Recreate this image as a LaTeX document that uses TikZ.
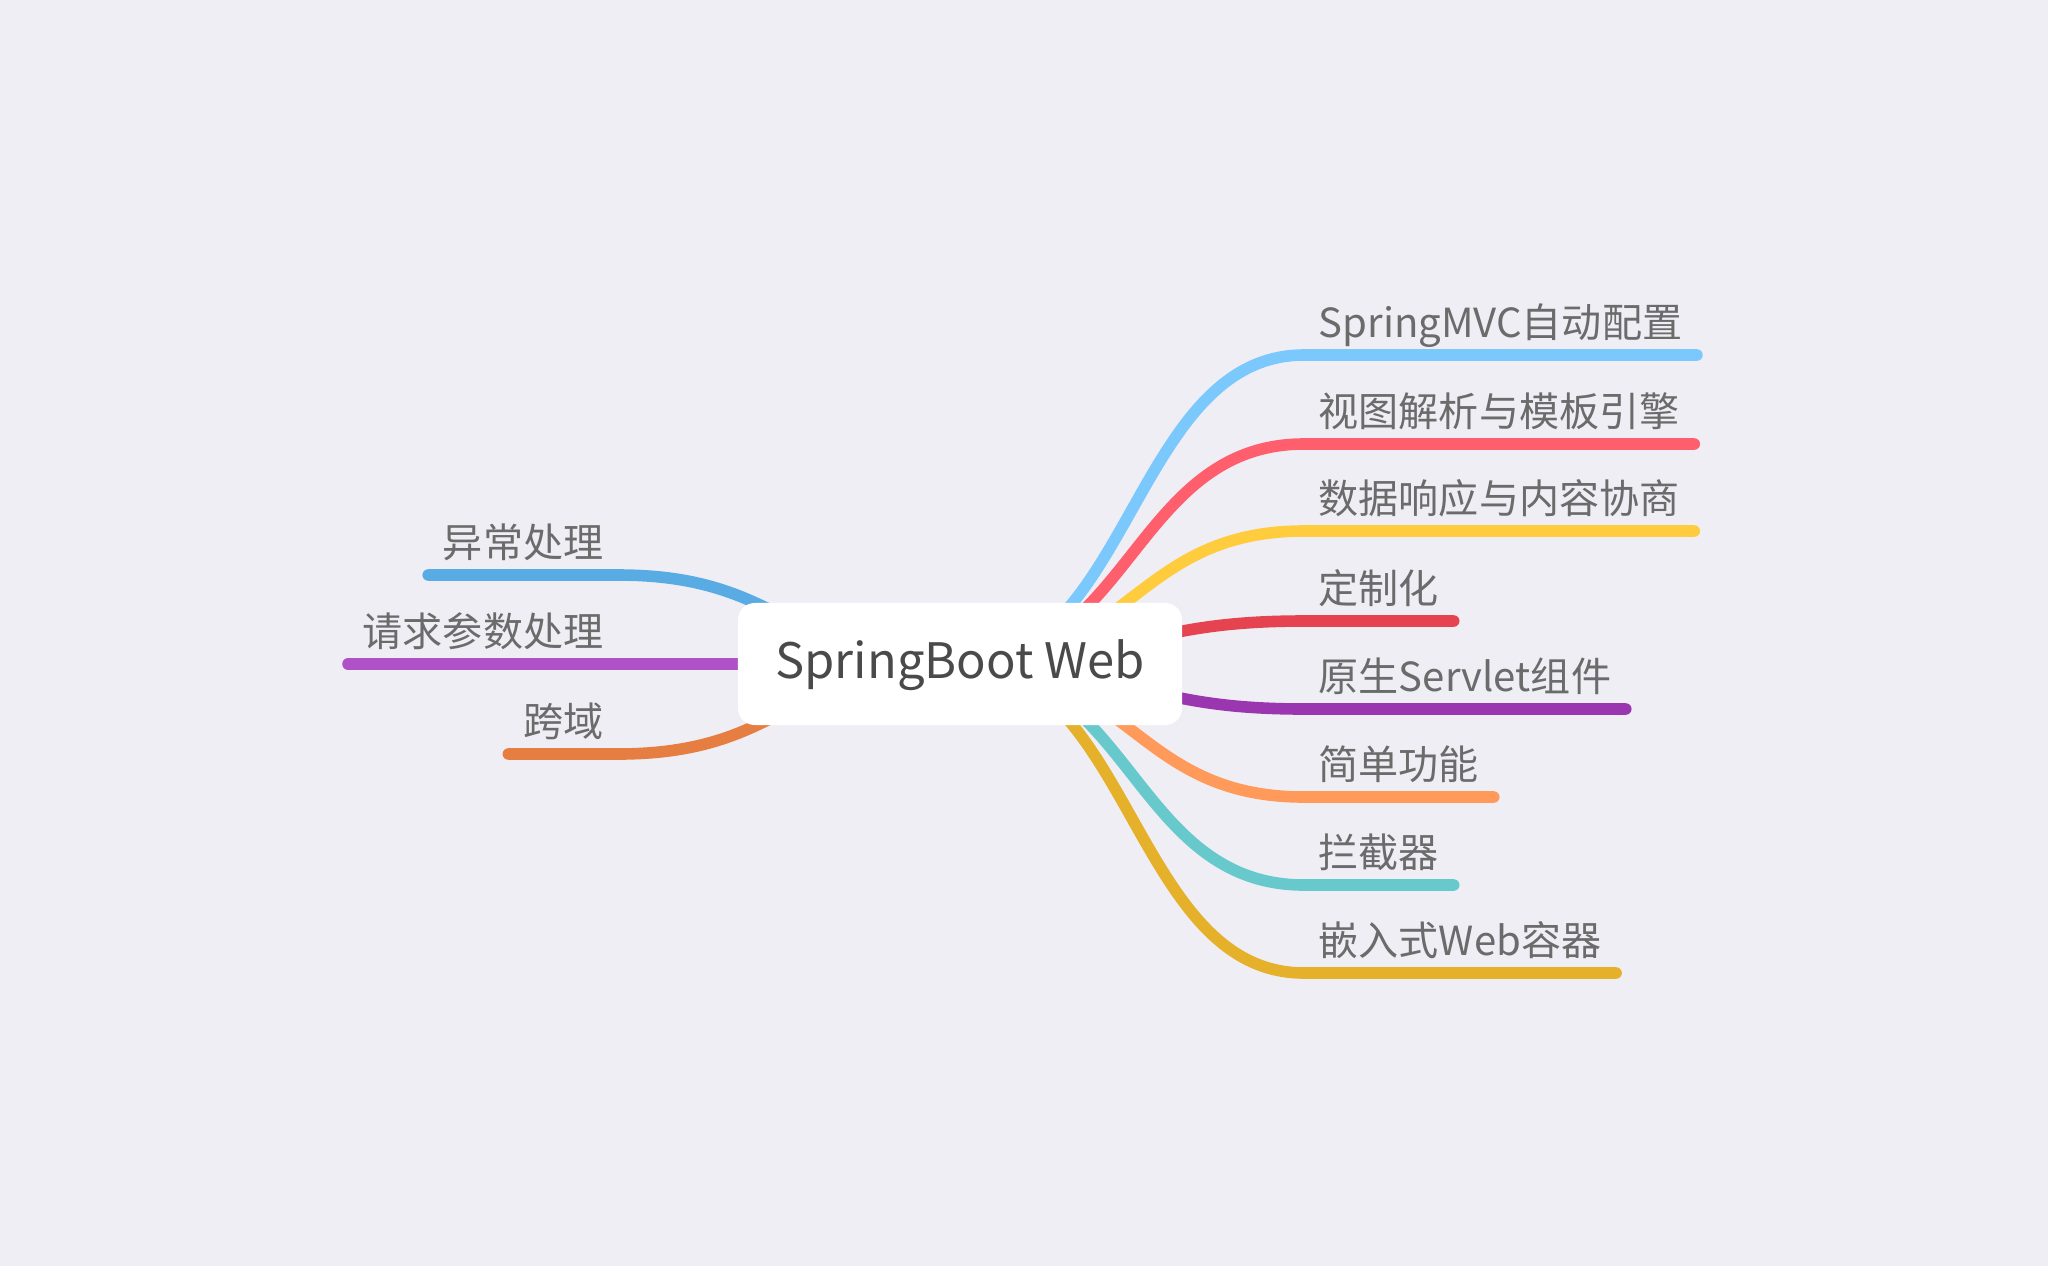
\documentclass[tikz,border=0pt]{standalone}
\usepackage{fontspec}
\setmainfont{Noto Sans CJK SC}
\definecolor{bgc}{HTML}{EFEEF5}
\definecolor{labelgray}{HTML}{6B6B6B}
\definecolor{rootgray}{HTML}{4A4A4A}
\definecolor{mvcblue}{HTML}{7AC8FC}
\definecolor{viewred}{HTML}{FF5E6C}
\definecolor{respyellow}{HTML}{FECC3D}
\definecolor{customred}{HTML}{E5434F}
\definecolor{servletpurple}{HTML}{9A37B0}
\definecolor{basicorange}{HTML}{FF9A5B}
\definecolor{interteal}{HTML}{68C9CC}
\definecolor{embedgold}{HTML}{E5B12A}
\definecolor{errorblue}{HTML}{58ACE3}
\definecolor{parampurple}{HTML}{AF52C8}
\definecolor{corsorange}{HTML}{E67D41}
\begin{document}
\begin{tikzpicture}[x=0.01cm,y=-0.01cm,
	branch/.style={line width=3.3pt,line cap=round},
	rlabel/.style={anchor=south west,inner xsep=0.14cm,inner ysep=4.7pt,text depth=0pt,text=labelgray,font=\fontsize{11.4pt}{13pt}\selectfont},
	llabel/.style={rlabel,anchor=south east},
	rootbox/.style={fill=white,rounded corners=0.17cm,minimum width=4.44cm,minimum height=1.22cm,text height=1.02em,text depth=0.2em,text=rootgray,font=\fontsize{13.9pt}{17pt}\selectfont}]
		\fill[bgc] (0,0) rectangle (2048,1266);
		\coordinate (hub) at (960,664);
		% right side
		\node[rlabel] (mvc) at (1304,355) {SpringMVC自动配置};
		\node[rlabel] (view) at (1304,444) {视图解析与模板引擎};
		\node[rlabel] (resp) at (1304,531) {数据响应与内容协商};
		\node[rlabel] (custom) at (1304,621) {定制化};
		\node[rlabel] (servlet) at (1304,709) {原生Servlet组件};
		\node[rlabel] (basic) at (1304,797) {简单功能};
		\node[rlabel] (inter) at (1304,885) {拦截器};
		\node[rlabel] (embed) at (1304,973) {嵌入式Web容器};
		% left side
		\node[llabel] (error) at (618,575) {异常处理};
		\node[llabel] (param) at (618,664) {请求参数处理};
		\node[llabel] (cors) at (618,754) {跨域};
		
		\draw[branch,mvcblue] (hub) .. controls +(170,0) and +(-170,0) .. (mvc.south west) -- (mvc.south east);
		\draw[branch,viewred] (hub) .. controls +(170,0) and +(-170,0) .. (view.south west) -- (view.south east);
		\draw[branch,respyellow] (hub) .. controls +(170,0) and +(-170,0) .. (resp.south west) -- (resp.south east);
		\draw[branch,customred] (hub) .. controls +(170,0) and +(-170,0) .. (custom.south west) -- (custom.south east);
		\draw[branch,servletpurple] (hub) .. controls +(170,0) and +(-170,0) .. (servlet.south west) -- (servlet.south east);
		\draw[branch,basicorange] (hub) .. controls +(170,0) and +(-170,0) .. (basic.south west) -- (basic.south east);
		\draw[branch,interteal] (hub) .. controls +(170,0) and +(-170,0) .. (inter.south west) -- (inter.south east);
		\draw[branch,embedgold] (hub) .. controls +(170,0) and +(-170,0) .. (embed.south west) -- (embed.south east);
		\draw[branch,errorblue] (hub) .. controls +(-170,0) and +(170,0) .. (error.south east) -- (error.south west);
		\draw[branch,parampurple] (hub) -- (param.south east) -- (param.south west);
		\draw[branch,corsorange] (hub) .. controls +(-170,0) and +(170,0) .. (cors.south east) -- (cors.south west);
		
		\node[rootbox] (web) at (hub) {SpringBoot Web};
		
\end{tikzpicture}
\end{document}
